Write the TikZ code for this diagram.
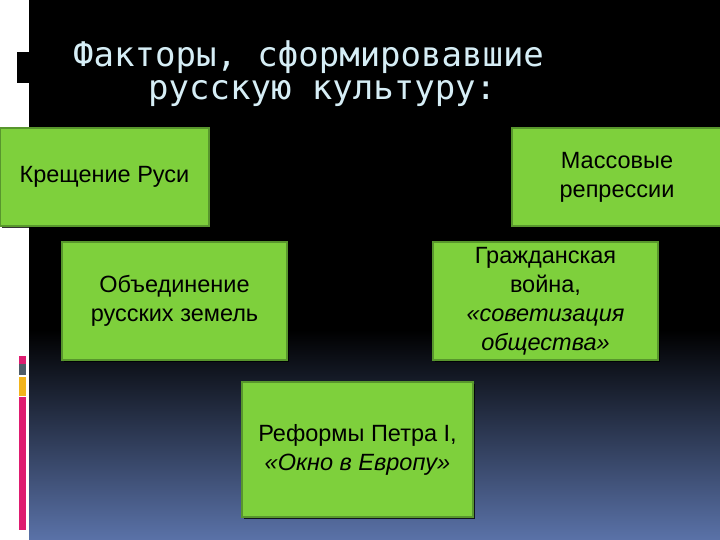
\documentclass[tikz,border=0pt]{standalone}
\usepackage{fontspec}
\setmainfont{Liberation Sans}
\newfontfamily\titlefont{DejaVu Sans Mono}
\usetikzlibrary{shadows}
\definecolor{boxgreen}{RGB}{126,208,60}
\definecolor{boxline}{RGB}{88,150,45}
\definecolor{titlecol}{RGB}{214,238,246}
\definecolor{bgblue}{RGB}{90,114,168}
\definecolor{barpink}{RGB}{222,28,112}
\definecolor{bargrey}{RGB}{78,92,104}
\definecolor{barorange}{RGB}{242,180,28}
\tikzset{
  factor/.style={draw=boxline, line width=1.2pt, fill=boxgreen, inner sep=0pt,
    align=center, text=black, font=\fontsize{23.5}{29}\selectfont,
    drop shadow={shadow xshift=2pt, shadow yshift=-2pt, opacity=0.8, fill=black}},
  titletext/.style={anchor=base west, inner sep=0pt, text=titlecol,
    font=\titlefont\fontsize{34}{34}\selectfont}
}
\begin{document}
\begin{tikzpicture}[x=1pt,y=-1pt]
\useasboundingbox (0,0) rectangle (720,540);
% page background
\fill[white] (0,0) rectangle (720,540);
\fill[black] (29,0) rectangle (720,330);
\shade[top color=black, bottom color=bgblue] (29,330) rectangle (720,540);
% left decoration
\fill[black] (17,52) rectangle (29,83);
\fill[barpink] (19,356) rectangle (26,364);
\fill[bargrey] (19,364) rectangle (26,375);
\fill[barorange] (19,377) rectangle (26,396);
\fill[barpink] (19,397) rectangle (26,530);
% title
\node[titletext] (t1) at (73,67) {Факторы, сформировавшие};
\node[titletext] (t2) at (148,100) {русскую культуру:};
% boxes
\node[factor, minimum width=209pt, minimum height=98pt] (b1) at (104.5,177) {Крещение Руси};
\node[factor, minimum width=225pt, minimum height=118pt] (b2) at (174.5,301) {Объединение\\русских земель};
\node[factor, minimum width=210pt, minimum height=98pt] (b3) at (617,177) {Массовые\\репрессии};
\node[factor, minimum width=225pt, minimum height=118pt] (b4) at (545.5,301) {Гражданская\\война,\\\textit{«советизация}\\\textit{общества»}};
\node[factor, minimum width=231pt, minimum height=135pt] (b5) at (357.5,449.5) {Реформы Петра I,\\\textit{«Окно в Европу»}};
\end{tikzpicture}
\end{document}
